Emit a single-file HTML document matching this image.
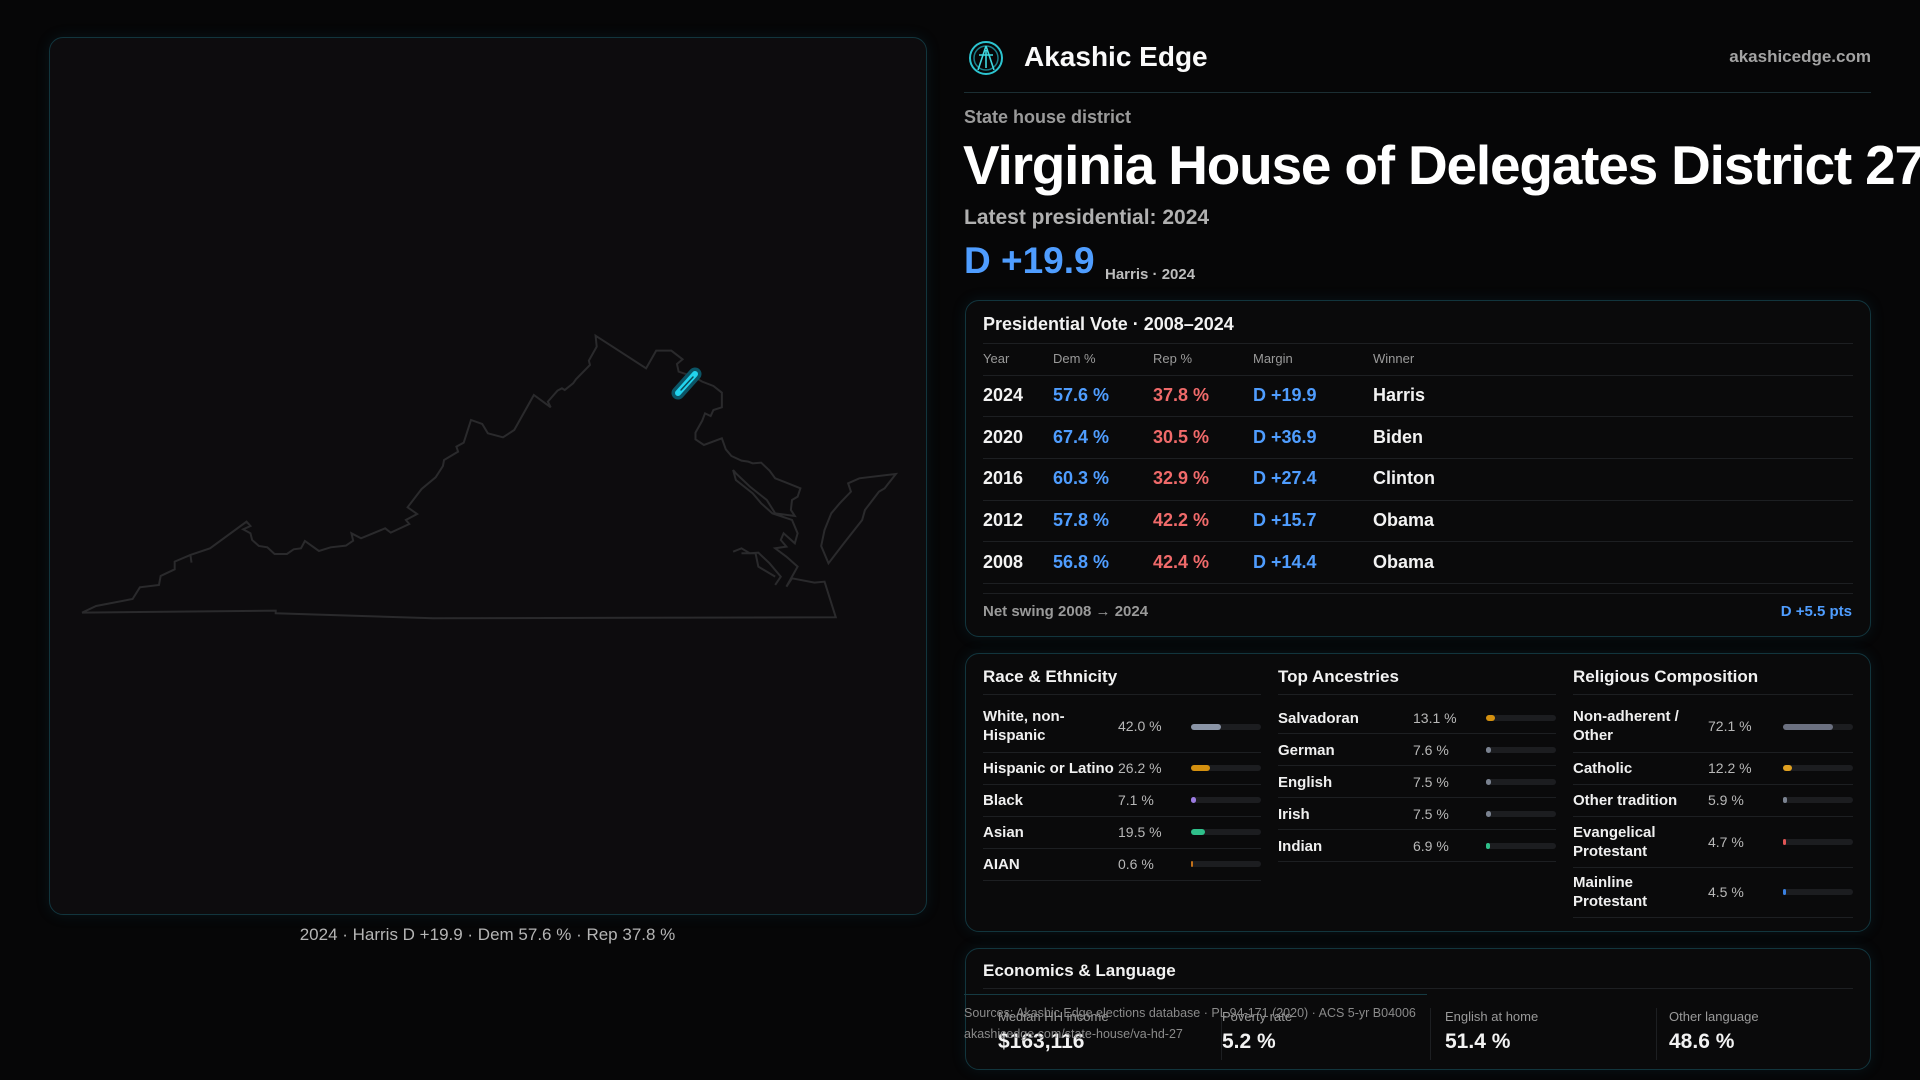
<!DOCTYPE html>
<html><head><meta charset="utf-8"><style>
*{margin:0;padding:0;box-sizing:border-box}
body{width:1920px;height:1080px;background:#060607;font-family:"Liberation Sans",sans-serif;color:#f2f2f2;position:relative;overflow:hidden}
.a{position:absolute;white-space:nowrap}
.panel{position:absolute;background:#0a0a0b;border:1.5px solid #12353d;border-radius:14px;box-shadow:0 0 14px rgba(20,90,110,.18)}
.hl{position:absolute;height:1px;background:#1d1f22}
.g{color:#9a9a9a}
.blue{color:#4f9dff}.red{color:#f06a6a}
.row{font-size:18px;font-weight:bold}
.lab{font-size:15px;font-weight:bold;color:#f0f0f0;line-height:19px}
.val{font-size:14px;color:#b8b8b8}
.bar{position:absolute;height:6px;width:70px;background:#1c1d20;border-radius:3px}
.bar i{display:block;height:6px;border-radius:3px}
</style></head><body>

<div class="panel" style="left:49px;top:37px;width:878px;height:878px;background:#0d0c0e"></div>
<svg class="a" style="left:0;top:0" width="960" height="1080">
<g transform="translate(40,300) scale(0.5612,0.3333)" fill="none" stroke="#2a2a2c" stroke-width="2" vector-effect="non-scaling-stroke">
<path vector-effect="non-scaling-stroke" d="M75,938 L100,918 165,897 178,862 212,855 215,828 240,808 240,785 268,765 303,745 368,665 375,678 362,688 375,700 378,720 390,738 405,742 418,762 440,762 452,748 465,745 472,723 497,753 518,742 545,737 558,722 555,700 572,715 615,685 625,698 658,672 652,660 672,642 655,622 680,567 705,532 718,498 720,480 745,455 742,440 755,428 768,360 788,372 798,400 825,412 845,390 880,285 910,322 905,305 922,272 930,265 935,270 950,250 955,238 980,195 978,182 992,140 990,107 1080,205 1098,152 1125,152 1145,178 1135,192 1138,215 1165,230 1180,245 1200,258 1215,278 1215,322 1200,330 1195,348 1185,340 1180,362 1168,398 1168,418 1183,435 1215,415 1222,448 1232,468 1250,482 1262,485 1270,490 1285,488 1300,512 1310,535 1330,548 1355,565 1350,590 1340,600 1338,630 1345,648 1310,640 1295,600 1265,560 1240,520 1235,510 1240,540 1270,580 1285,610 1305,640 1340,660 1350,700 1345,730 1325,700 1320,720 1330,740 1310,745 1330,770 1350,800 1340,830 1330,860 1340,835 1380,848 1398,845 1418,952 700,955 420,940 420,932 Z"/>
<path vector-effect="non-scaling-stroke" d="M1235,755 L1250,745 1265,760 1280,758 1300,790 1320,830 1310,855 M1250,760 L1275,760 1280,800 1310,830"/>
<path vector-effect="non-scaling-stroke" d="M1460,535 L1525,522 1505,565 1495,575 1470,630 1465,660 1430,735 1405,790 1392,738 1398,690 1410,640 1425,610 1445,575 1440,550 Z"/>
<path vector-effect="non-scaling-stroke" d="M268,765 L270,788"/>
</g>
<line x1="695" y1="374" x2="678" y2="393" stroke="#0b5566" stroke-width="13" stroke-linecap="round"/>
<line x1="695" y1="374" x2="678" y2="393" stroke="#22d3ee" stroke-width="6" stroke-linecap="round"/>
<line x1="693" y1="377" x2="681" y2="390" stroke="#0a4a58" stroke-width="1.5" stroke-linecap="round"/>
</svg>
<div class="a" style="left:0;width:975px;text-align:center;top:925px;font-size:17px;color:#b5b5b5">2024 · Harris D +19.9 · Dem 57.6 % · Rep 37.8 %</div>

<!-- header -->
<svg class="a" style="left:968px;top:40px" width="36" height="36" viewBox="0 0 36 36"><circle cx="18" cy="18" r="16" fill="none" stroke="#2cc4d0" stroke-width="2"/><circle cx="18" cy="18" r="12" fill="none" stroke="#1a7d88" stroke-width="1.5"/><path d="M18 6 L10 30 M18 6 L26 30 M11 15 L25 15 M18 10 L18 28" stroke="#3fd8e0" stroke-width="1.6" fill="none"/></svg>
<div class="a" style="left:1024px;top:41px;font-size:28px;font-weight:bold;color:#fafafa">Akashic Edge</div>
<div class="a" style="right:49px;top:47px;font-size:17px;font-weight:bold;color:#a3a3a3">akashicedge.com</div>
<div class="hl" style="left:964px;width:907px;top:92px;background:#1b2e33"></div>
<div class="a g" style="left:964px;top:107px;font-size:18px;font-weight:bold">State house district</div>
<div class="a" style="left:963px;top:133px;font-size:55px;font-weight:bold;letter-spacing:-1.2px;color:#fff">Virginia House of Delegates District 27</div>
<div class="a" style="left:964px;top:206px;font-size:21px;font-weight:bold;color:#b0b0b0">Latest presidential: 2024</div>
<div class="a blue" style="left:964px;top:240px;font-size:37px;font-weight:bold">D +19.9</div>
<div class="a" style="left:1105px;top:266px;font-size:15px;color:#bdbdbd;font-weight:bold">Harris · 2024</div>

<!-- pres -->
<div class="panel" style="left:965px;top:300px;width:906px;height:337px"></div>
<div class="a" style="left:983px;top:314px;font-size:18px;font-weight:bold">Presidential Vote · 2008–2024</div>
<div class="hl" style="left:983px;width:870px;top:343px"></div>
<div class="a g" style="left:983px;top:351px;font-size:13px">Year</div>
<div class="a g" style="left:1053px;top:351px;font-size:13px">Dem %</div>
<div class="a g" style="left:1153px;top:351px;font-size:13px">Rep %</div>
<div class="a g" style="left:1253px;top:351px;font-size:13px">Margin</div>
<div class="a g" style="left:1373px;top:351px;font-size:13px">Winner</div>
<div class="hl" style="left:983px;width:870px;top:375px"></div>

<div class="a row" style="left:983px;top:385px">2024</div><div class="a row blue" style="left:1053px;top:385px">57.6 %</div><div class="a row red" style="left:1153px;top:385px">37.8 %</div><div class="a row blue" style="left:1253px;top:385px">D +19.9</div><div class="a row" style="left:1373px;top:385px">Harris</div>
<div class="hl" style="left:983px;width:870px;top:416px"></div>
<div class="a row" style="left:983px;top:427px">2020</div><div class="a row blue" style="left:1053px;top:427px">67.4 %</div><div class="a row red" style="left:1153px;top:427px">30.5 %</div><div class="a row blue" style="left:1253px;top:427px">D +36.9</div><div class="a row" style="left:1373px;top:427px">Biden</div>
<div class="hl" style="left:983px;width:870px;top:458px"></div>
<div class="a row" style="left:983px;top:468px">2016</div><div class="a row blue" style="left:1053px;top:468px">60.3 %</div><div class="a row red" style="left:1153px;top:468px">32.9 %</div><div class="a row blue" style="left:1253px;top:468px">D +27.4</div><div class="a row" style="left:1373px;top:468px">Clinton</div>
<div class="hl" style="left:983px;width:870px;top:500px"></div>
<div class="a row" style="left:983px;top:510px">2012</div><div class="a row blue" style="left:1053px;top:510px">57.8 %</div><div class="a row red" style="left:1153px;top:510px">42.2 %</div><div class="a row blue" style="left:1253px;top:510px">D +15.7</div><div class="a row" style="left:1373px;top:510px">Obama</div>
<div class="hl" style="left:983px;width:870px;top:541px"></div>
<div class="a row" style="left:983px;top:552px">2008</div><div class="a row blue" style="left:1053px;top:552px">56.8 %</div><div class="a row red" style="left:1153px;top:552px">42.4 %</div><div class="a row blue" style="left:1253px;top:552px">D +14.4</div><div class="a row" style="left:1373px;top:552px">Obama</div>
<div class="hl" style="left:983px;width:870px;top:583px"></div>
<div class="hl" style="left:983px;width:870px;top:593px"></div>
<div class="a g" style="left:983px;top:603px;font-size:15px;font-weight:bold">Net swing 2008 → 2024</div>
<div class="a blue" style="right:68px;top:603px;font-size:15px;font-weight:bold">D +5.5 pts</div>

<!-- demographics -->
<div class="panel" style="left:965px;top:653px;width:906px;height:279px"></div>
<div class="a" style="left:983px;top:667px;font-size:17px;font-weight:bold">Race &amp; Ethnicity</div>
<div class="a" style="left:1278px;top:667px;font-size:17px;font-weight:bold">Top Ancestries</div>
<div class="a" style="left:1573px;top:667px;font-size:17px;font-weight:bold">Religious Composition</div>
<div class="hl" style="left:983px;width:278px;top:694px"></div>
<div class="hl" style="left:1278px;width:278px;top:694px"></div>
<div class="hl" style="left:1573px;width:280px;top:694px"></div>

<!-- race -->
<div class="a lab" style="left:983px;top:707px">White, non-<br>Hispanic</div><div class="a val" style="left:1118px;top:718px">42.0 %</div><div class="bar" style="left:1191px;top:724px"><i style="width:30px;background:#8a94a6"></i></div>
<div class="hl" style="left:983px;width:278px;top:752px"></div>
<div class="a lab" style="left:983px;top:759px">Hispanic or Latino</div><div class="a val" style="left:1118px;top:760px">26.2 %</div><div class="bar" style="left:1191px;top:765px"><i style="width:19px;background:#d4900f"></i></div>
<div class="hl" style="left:983px;width:278px;top:784px"></div>
<div class="a lab" style="left:983px;top:791px">Black</div><div class="a val" style="left:1118px;top:792px">7.1 %</div><div class="bar" style="left:1191px;top:797px"><i style="width:5px;background:#9b7be0"></i></div>
<div class="hl" style="left:983px;width:278px;top:816px"></div>
<div class="a lab" style="left:983px;top:823px">Asian</div><div class="a val" style="left:1118px;top:824px">19.5 %</div><div class="bar" style="left:1191px;top:829px"><i style="width:14px;background:#2fbf8a"></i></div>
<div class="hl" style="left:983px;width:278px;top:848px"></div>
<div class="a lab" style="left:983px;top:855px">AIAN</div><div class="a val" style="left:1118px;top:856px">0.6 %</div><div class="bar" style="left:1191px;top:861px"><i style="width:2px;background:#c0701a"></i></div>
<div class="hl" style="left:983px;width:278px;top:880px"></div>

<!-- ancestry -->
<div class="a lab" style="left:1278px;top:709px">Salvadoran</div><div class="a val" style="left:1413px;top:710px">13.1 %</div><div class="bar" style="left:1486px;top:715px"><i style="width:9px;background:#d4900f"></i></div>
<div class="hl" style="left:1278px;width:278px;top:733px"></div>
<div class="a lab" style="left:1278px;top:741px">German</div><div class="a val" style="left:1413px;top:742px">7.6 %</div><div class="bar" style="left:1486px;top:747px"><i style="width:5px;background:#7a8290"></i></div>
<div class="hl" style="left:1278px;width:278px;top:765px"></div>
<div class="a lab" style="left:1278px;top:773px">English</div><div class="a val" style="left:1413px;top:774px">7.5 %</div><div class="bar" style="left:1486px;top:779px"><i style="width:5px;background:#7a8290"></i></div>
<div class="hl" style="left:1278px;width:278px;top:797px"></div>
<div class="a lab" style="left:1278px;top:805px">Irish</div><div class="a val" style="left:1413px;top:806px">7.5 %</div><div class="bar" style="left:1486px;top:811px"><i style="width:5px;background:#7a8290"></i></div>
<div class="hl" style="left:1278px;width:278px;top:829px"></div>
<div class="a lab" style="left:1278px;top:837px">Indian</div><div class="a val" style="left:1413px;top:838px">6.9 %</div><div class="bar" style="left:1486px;top:843px"><i style="width:4px;background:#2fbf8a"></i></div>
<div class="hl" style="left:1278px;width:278px;top:861px"></div>

<!-- religion -->
<div class="a lab" style="left:1573px;top:707px">Non-adherent /<br>Other</div><div class="a val" style="left:1708px;top:718px">72.1 %</div><div class="bar" style="left:1783px;top:724px"><i style="width:50px;background:#6b7080"></i></div>
<div class="hl" style="left:1573px;width:280px;top:752px"></div>
<div class="a lab" style="left:1573px;top:759px">Catholic</div><div class="a val" style="left:1708px;top:760px">12.2 %</div><div class="bar" style="left:1783px;top:765px"><i style="width:9px;background:#e0a020"></i></div>
<div class="hl" style="left:1573px;width:280px;top:784px"></div>
<div class="a lab" style="left:1573px;top:791px">Other tradition</div><div class="a val" style="left:1708px;top:792px">5.9 %</div><div class="bar" style="left:1783px;top:797px"><i style="width:4px;background:#7a8290"></i></div>
<div class="hl" style="left:1573px;width:280px;top:816px"></div>
<div class="a lab" style="left:1573px;top:823px">Evangelical<br>Protestant</div><div class="a val" style="left:1708px;top:834px">4.7 %</div><div class="bar" style="left:1783px;top:839px"><i style="width:3px;background:#e05555"></i></div>
<div class="hl" style="left:1573px;width:280px;top:867px"></div>
<div class="a lab" style="left:1573px;top:873px">Mainline<br>Protestant</div><div class="a val" style="left:1708px;top:884px">4.5 %</div><div class="bar" style="left:1783px;top:889px"><i style="width:3px;background:#3a80e0"></i></div>
<div class="hl" style="left:1573px;width:280px;top:917px"></div>

<!-- econ -->
<div class="panel" style="left:965px;top:948px;width:906px;height:122px"></div>
<div class="a" style="left:983px;top:961px;font-size:17px;font-weight:bold">Economics &amp; Language</div>
<div class="hl" style="left:983px;width:870px;top:988px"></div>
<div class="hl" style="left:964px;width:463px;top:994px;background:#153a42"></div>
<div class="a" style="left:1221px;top:1008px;width:1px;height:52px;background:#1d1f22"></div>
<div class="a" style="left:1430px;top:1008px;width:1px;height:52px;background:#1d1f22"></div>
<div class="a" style="left:1656px;top:1008px;width:1px;height:52px;background:#1d1f22"></div>
<div class="a g" style="left:998px;top:1009px;font-size:13px">Median HH income</div>
<div class="a" style="left:998px;top:1030px;font-size:21px;font-weight:bold">$163,116</div>
<div class="a g" style="left:1222px;top:1009px;font-size:13px">Poverty rate</div>
<div class="a" style="left:1222px;top:1030px;font-size:21px;font-weight:bold">5.2 %</div>
<div class="a g" style="left:1445px;top:1009px;font-size:13px">English at home</div>
<div class="a" style="left:1445px;top:1030px;font-size:21px;font-weight:bold">51.4 %</div>
<div class="a g" style="left:1669px;top:1009px;font-size:13px">Other language</div>
<div class="a" style="left:1669px;top:1030px;font-size:21px;font-weight:bold">48.6 %</div>
<div class="a" style="left:964px;top:1006px;font-size:12.5px;color:#8a8a8a">Sources: Akashic Edge elections database · PL 94-171 (2020) · ACS 5-yr B04006</div>
<div class="a" style="left:964px;top:1027px;font-size:12.5px;color:#8a8a8a">akashicedge.com/state-house/va-hd-27</div>
</body></html>
